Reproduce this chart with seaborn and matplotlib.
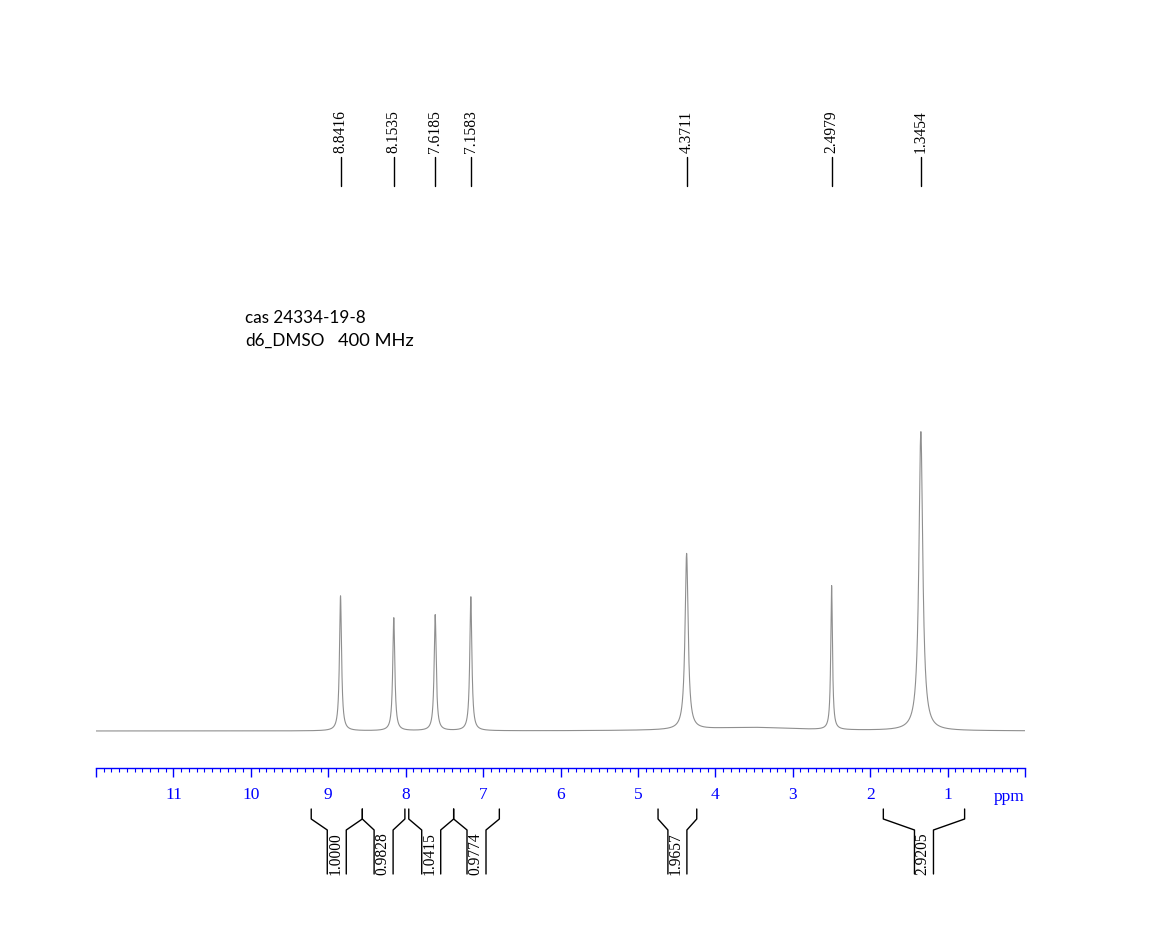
import numpy as np
import pandas as pd
import matplotlib
matplotlib.use("Agg")
import matplotlib.pyplot as plt
from matplotlib.ticker import MultipleLocator, FuncFormatter
from matplotlib.transforms import blended_transform_factory
import seaborn as sns

# ---------------- data ----------------
peak_ppm = [8.8416, 8.1535, 7.6185, 7.1583, 4.3711, 2.4979, 1.3454]
peak_height = [135, 113, 116, 134, 176, 144, 299]          # relative intensity
peak_halfwidth = [0.016, 0.016, 0.016, 0.016, 0.024, 0.013, 0.030]  # ppm (HWHM)
hump_ppm = [3.55]
hump_height = [3.5]
hump_halfwidth = [0.75]

peak_labels = ["8.8416", "8.1535", "7.6185", "7.1583", "4.3711", "2.4979", "1.3454"]

integral_from = [9.22, 8.56, 7.96, 7.38, 4.74, 1.83]
integral_to = [8.56, 8.01, 7.38, 6.79, 4.24, 0.78]
integral_values = ["1.0000", "0.9828", "1.0415", "0.9774", "1.9657", "2.9205"]

tick_values = [11, 10, 9, 8, 7, 6, 5, 4, 3, 2, 1]
info_line1 = "cas 24334-19-8"
info_solvent = "d6_DMSO"
info_freq = "400 MHz"

# ---------------- spectrum (Lorentzian line shapes of the read peaks) ----------------
ppm = np.linspace(12.0, 0.0, 24001)
intensity = np.zeros_like(ppm)
for p, h, w in zip(peak_ppm + hump_ppm, peak_height + hump_height,
                   peak_halfwidth + hump_halfwidth):
    intensity += h * w ** 2 / ((ppm - p) ** 2 + w ** 2)
df = pd.DataFrame({"ppm": ppm, "intensity": intensity})

# ---------------- figure ----------------
sns.set_style("white")
W, H = 1172, 953
fig = plt.figure(figsize=(W / 100, H / 100), dpi=100)
ax = fig.add_axes([96 / W, (H - 769) / H, 929 / W, 769 / H])
ax.patch.set_alpha(0)

sns.lineplot(data=df, x="ppm", y="intensity", ax=ax, color="#8f8f8f",
             linewidth=0.8, sort=False, estimator=None)

ax.set_xlim(12, 0)
ax.set_ylim(-37, 732)
ax.set_xlabel("")
ax.set_ylabel("")
ax.set_yticks([])
for s in ["top", "left", "right"]:
    ax.spines[s].set_visible(False)
ax.spines["bottom"].set_color("blue")
ax.spines["bottom"].set_linewidth(1.0)

ax.xaxis.set_major_locator(MultipleLocator(1))
ax.xaxis.set_minor_locator(MultipleLocator(0.1))
ax.xaxis.set_major_formatter(FuncFormatter(
    lambda v, pos: str(int(round(v))) if int(round(v)) in tick_values else ""))
ax.tick_params(axis="x", which="major", direction="out", length=6.5, width=1,
               color="blue", labelcolor="blue", labelsize=12.5, pad=6.5,
               bottom=True)
ax.tick_params(axis="x", which="minor", direction="out", length=3, width=0.8,
               color="blue", bottom=True)
for lbl in ax.get_xticklabels():
    lbl.set_fontfamily("Liberation Serif")

serif = "Liberation Serif"
tr = blended_transform_factory(ax.transData, fig.transFigure)


def fy(py):
    return 1 - py / H


px2ppm = 12.0 / 929.0

# "ppm" unit label
fig.text(1025 / W, fy(797), "ppm", color="blue", fontsize=12.5, family=serif,
         ha="right", va="center")

# peak labels at the top
for p, lab in zip(peak_ppm, peak_labels):
    ax.plot([p, p], [fy(158), fy(187)], transform=tr, color="black",
            linewidth=1.0, clip_on=False)
    ax.text(p, fy(153), lab, transform=tr, rotation=90, ha="center",
            va="bottom", fontsize=11.2, family=serif, color="black")

# integral brackets
hw = 9.5 * px2ppm
for a, b, val in zip(integral_from, integral_to, integral_values):
    c = (a + b) / 2
    ax.plot([a, a, c + hw, c + hw], [fy(810), fy(820), fy(831), fy(875)],
            transform=tr, color="black", linewidth=1.0, clip_on=False)
    ax.plot([b, b, c - hw, c - hw], [fy(810), fy(820), fy(831), fy(875)],
            transform=tr, color="black", linewidth=1.0, clip_on=False)
    ax.text(c + 1.5 * px2ppm, fy(875), val, transform=tr, rotation=90,
            ha="center", va="bottom", fontsize=11.2, family=serif, color="black")

# sample information
fig.text(245 / W, fy(318), info_line1, fontsize=12.3, family="Lato",
         color="black", ha="left", va="center")
fig.text(245 / W, fy(341), info_solvent, fontsize=12.3, family="Lato",
         color="black", ha="left", va="center")
fig.text(338 / W, fy(341), info_freq, fontsize=13.2, family="Lato",
         color="black", ha="left", va="center")

fig.savefig("out.png", dpi=100)
